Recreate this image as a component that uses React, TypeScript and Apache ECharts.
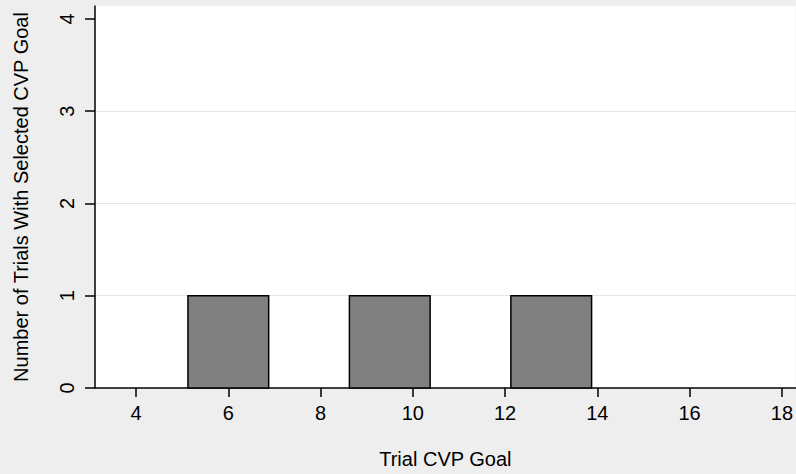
import React, { useEffect, useRef } from "react";
import * as echarts from "echarts";

const binStart = [5.125, 8.625, 12.125];
const binEnd = [6.875, 10.375, 13.875];
const counts = [1, 1, 1];
const xTicks = [4, 6, 8, 10, 12, 14, 16, 18];
const yTicks = [0, 1, 2, 3, 4];
const xTitle = "Trial CVP Goal";
const yTitle = "Number of Trials With Selected CVP Goal";

const FONT = "Liberation Sans";

export default function App() {
  const ref = useRef<HTMLDivElement>(null);
  useEffect(() => {
    if (!ref.current) return;
    const chart = echarts.init(ref.current, null, { renderer: "svg" });
    const data = binStart.map((s, i) => [s, binEnd[i], counts[i]]);
    chart.setOption({
      animation: false,
      backgroundColor: "#eeeeee",
      grid: {
        left: 95,
        right: 0,
        top: 6,
        bottom: 84,
        show: true,
        backgroundColor: "#ffffff",
        borderWidth: 0,
      },
      xAxis: {
        type: "value",
        min: 3.11,
        max: 18.3,
        name: xTitle,
        nameLocation: "middle",
        nameGap: 61,
        nameTextStyle: { color: "#000", fontFamily: FONT, fontSize: 20 },
        axisLine: { show: true, onZero: false, lineStyle: { color: "#000", width: 1.5 } },
        axisTick: { show: true, length: 9, customValues: xTicks, lineStyle: { color: "#000", width: 1.5 } },
        axisLabel: {
          customValues: xTicks,
          margin: 15,
          color: "#000",
          fontFamily: FONT,
          fontSize: 20,
        },
        splitLine: { show: false },
      },
      yAxis: {
        type: "value",
        min: 0,
        max: 4.14,
        name: yTitle,
        nameLocation: "middle",
        nameGap: 64,
        nameTextStyle: { color: "#000", fontFamily: FONT, fontSize: 20 },
        axisLine: { show: true, onZero: false, lineStyle: { color: "#000", width: 1.5 } },
        axisTick: { show: true, length: 10, customValues: yTicks, lineStyle: { color: "#000", width: 1.5 } },
        axisLabel: {
          customValues: yTicks,
          rotate: 90,
          margin: 18,
          color: "#000",
          fontFamily: FONT,
          fontSize: 20,
        },
        splitLine: {
          show: true,
          lineStyle: { color: ["#ffffff", "#e6e6e6", "#e6e6e6", "#e6e6e6", "#ffffff"], width: 1 },
        },
      },
      series: [
        {
          type: "custom",
          data,
          encode: { x: [0, 1], y: 2 },
          renderItem: (params: any, api: any) => {
            const p0 = api.coord([api.value(0), 0]);
            const p1 = api.coord([api.value(1), api.value(2)]);
            return {
              type: "rect",
              shape: { x: p0[0], y: p1[1], width: p1[0] - p0[0], height: p0[1] - p1[1] },
              style: { fill: "#808080", stroke: "#000", lineWidth: 1.5 },
            };
          },
        },
      ],
    });
    return () => chart.dispose();
  }, []);
  return (
    <div
      ref={ref}
      style={{ position: "fixed", left: 0, top: 0, width: 796, height: 474 }}
    />
  );
}
